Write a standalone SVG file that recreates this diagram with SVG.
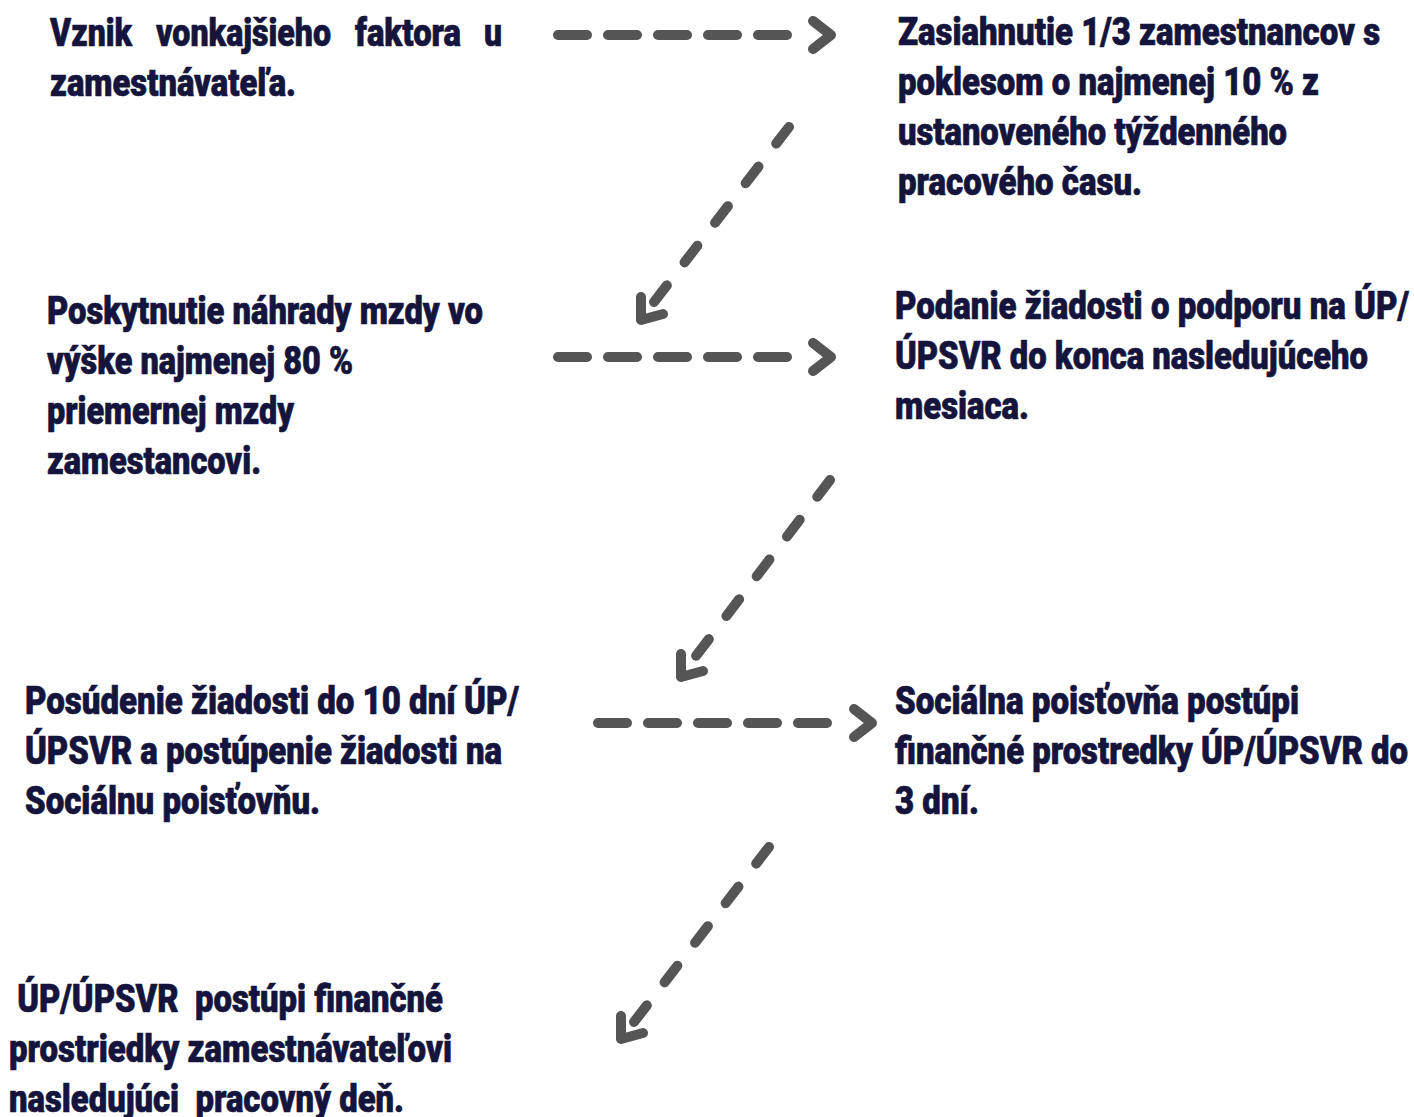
<svg xmlns="http://www.w3.org/2000/svg" width="1414" height="1117" viewBox="0 0 1414 1117">
  <style>
    text { font-family: "Roboto", "Liberation Sans", sans-serif; font-weight: 900; font-size: 38px; fill: #14143c; stroke: #14143c; stroke-width: 0.7; stroke-linejoin: round; white-space: pre; }
    .ln { fill: none; stroke: #555555; stroke-width: 10; stroke-linecap: round; stroke-linejoin: round; }
    .h { stroke-dasharray: 29 21; }
    .d { stroke-dasharray: 21 29; }
  </style>
  <rect width="1414" height="1117" fill="#ffffff"/>

  <g id="connectors">
    <path class="ln h" d="M558 35 H787"/>
    <path class="ln" d="M813 21 L831 35 L813 49"/>
    <path class="ln d" d="M789 127 L654 302"/>
    <path class="ln" d="M641 297 L641 320 L663 314"/>
    <path class="ln h" d="M558 357 H787"/>
    <path class="ln" d="M813 343 L831 357 L813 371"/>
    <path class="ln d" d="M830 480 L696 656"/>
    <path class="ln" d="M681 654 L681 677 L703 671"/>
    <path class="ln h" d="M598 723 H827"/>
    <path class="ln" d="M854 709 L872 723 L854 737"/>
    <path class="ln d" d="M769 847 L634 1022"/>
    <path class="ln" d="M621 1016 L621 1039 L643 1033"/>
  </g>

  <g id="node1">
    <text x="50" y="46" textLength="82" lengthAdjust="spacingAndGlyphs">Vznik</text>
    <text x="156" y="46" textLength="175" lengthAdjust="spacingAndGlyphs">vonkajšieho</text>
    <text x="355" y="46" textLength="106" lengthAdjust="spacingAndGlyphs">faktora</text>
    <text x="484" y="46" textLength="18" lengthAdjust="spacingAndGlyphs">u</text>
    <text x="50" y="96" textLength="246" lengthAdjust="spacingAndGlyphs">zamestnávateľa.</text>
  </g>

  <g id="node2">
    <text x="898" y="45" textLength="482" lengthAdjust="spacingAndGlyphs">Zasiahnutie 1/3 zamestnancov s</text>
    <text x="898" y="95" textLength="421" lengthAdjust="spacingAndGlyphs">poklesom o najmenej 10 % z</text>
    <text x="898" y="145" textLength="389" lengthAdjust="spacingAndGlyphs">ustanoveného týždenného</text>
    <text x="898" y="195" textLength="244" lengthAdjust="spacingAndGlyphs">pracového času.</text>
  </g>

  <g id="node3">
    <text x="47" y="324" textLength="436" lengthAdjust="spacingAndGlyphs">Poskytnutie náhrady mzdy vo</text>
    <text x="47" y="374" textLength="306" lengthAdjust="spacingAndGlyphs">výške najmenej 80 %</text>
    <text x="47" y="424" textLength="247" lengthAdjust="spacingAndGlyphs">priemernej mzdy</text>
    <text x="47" y="474" textLength="214" lengthAdjust="spacingAndGlyphs">zamestancovi.</text>
  </g>

  <g id="node4">
    <text x="895" y="319" textLength="514" lengthAdjust="spacingAndGlyphs">Podanie žiadosti o podporu na ÚP/</text>
    <text x="895" y="369" textLength="473" lengthAdjust="spacingAndGlyphs">ÚPSVR do konca nasledujúceho</text>
    <text x="895" y="419" textLength="134" lengthAdjust="spacingAndGlyphs">mesiaca.</text>
  </g>

  <g id="node5">
    <text x="25" y="714" textLength="494" lengthAdjust="spacingAndGlyphs">Posúdenie žiadosti do 10 dní ÚP/</text>
    <text x="25" y="764" textLength="477" lengthAdjust="spacingAndGlyphs">ÚPSVR a postúpenie žiadosti na</text>
    <text x="25" y="814" textLength="295" lengthAdjust="spacingAndGlyphs">Sociálnu poisťovňu.</text>
  </g>

  <g id="node6">
    <text x="895" y="714" textLength="404" lengthAdjust="spacingAndGlyphs">Sociálna poisťovňa postúpi</text>
    <text x="895" y="764" textLength="513" lengthAdjust="spacingAndGlyphs">finančné prostredky ÚP/ÚPSVR do</text>
    <text x="895" y="814" textLength="84" lengthAdjust="spacingAndGlyphs">3 dní.</text>
  </g>

  <g id="node7">
    <text x="9" y="1012" textLength="434" lengthAdjust="spacingAndGlyphs"> ÚP/ÚPSVR  postúpi finančné</text>
    <text x="9" y="1062" textLength="443" lengthAdjust="spacingAndGlyphs">prostriedky zamestnávateľovi</text>
    <text x="9" y="1112" textLength="395" lengthAdjust="spacingAndGlyphs">nasledujúci  pracovný deň.</text>
  </g>
</svg>
